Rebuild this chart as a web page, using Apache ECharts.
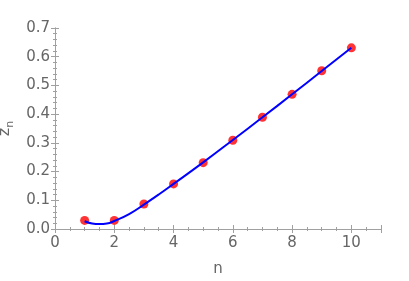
<!DOCTYPE html>
<html><head><meta charset="utf-8">
<script src="https://cdn.jsdelivr.net/npm/echarts@6/dist/echarts.min.js"></script>
<style>html,body{margin:0;padding:0;background:#fff}#c{width:409px;height:281px}</style>
</head><body><div id="c"></div>
<script>
const nValues = [1, 2, 3, 4, 5, 6, 7, 8, 9, 10];
const zValues = [0.030, 0.030, 0.087, 0.157, 0.231, 0.309, 0.389, 0.469, 0.551, 0.631];
const fitN = [1, 1.25, 1.5, 1.75, 2, 2.5, 3, 3.5, 4, 5, 6, 7, 8, 9, 10];
const fitZ = [0.027, 0.019, 0.017, 0.019, 0.028, 0.052, 0.085, 0.120, 0.157, 0.232, 0.310, 0.389, 0.469, 0.550, 0.631];
const xTicks = [0, 2, 4, 6, 8, 10];
const yTicks = [0.0, 0.1, 0.2, 0.3, 0.4, 0.5, 0.6, 0.7];

const font = 'DejaVu Sans';
const gray = '#666666';
const lineGray = '#a0a0a0';
const chart = echarts.init(document.getElementById('c'), null, {renderer: 'canvas'});
const baseAxis = {
  type: 'value',
  axisLine: {show: true, lineStyle: {color: lineGray, width: 1}},
  axisTick: {show: true, inside: true, length: 4, lineStyle: {color: lineGray}},
  minorTick: {show: true, splitNumber: 5, length: 2, lineStyle: {color: lineGray}},
  splitLine: {show: false},
  minorSplitLine: {show: false}
};
chart.setOption({
  animation: false,
  grid: {left: 55, top: 28, right: 28, bottom: 52, containLabel: false, outerBoundsMode: 'none'},
  xAxis: [
    Object.assign({}, baseAxis, {
      min: 0, max: 11, interval: 2, position: 'bottom',
      minorTick: Object.assign({}, baseAxis.minorTick, {splitNumber: 4}),
      axisLabel: {color: gray, fontFamily: font, fontSize: 15, margin: 7, showMaxLabel: false,
        formatter: v => xTicks.includes(v) ? String(v) : ''},
      name: 'n', nameLocation: 'middle', nameGap: 33,
      nameTextStyle: {color: gray, fontFamily: font, fontSize: 15}
    }),
    Object.assign({}, baseAxis, {
      min: 0, max: 11, interval: 2, position: 'top',
      minorTick: Object.assign({}, baseAxis.minorTick, {splitNumber: 4}),
      axisLabel: {show: false}
    })
  ],
  yAxis: [
    Object.assign({}, baseAxis, {
      min: 0, max: 0.7, interval: 0.1, position: 'left',
      axisLabel: {color: gray, fontFamily: font, fontSize: 15, margin: 5,
        formatter: v => { const t = yTicks.find(k => Math.abs(k - v) < 1e-9); return t === undefined ? '' : t.toFixed(1); }},
      name: '{z|z}{s|n}', nameLocation: 'middle', nameGap: 35,
      nameTextStyle: {color: gray, fontFamily: font,
        rich: {z: {fontSize: 16, color: gray, fontFamily: font}, s: {fontSize: 11, color: gray, fontFamily: font, padding: [9, 0, 0, 0]}}}
    }),
    Object.assign({}, baseAxis, {
      min: 0, max: 0.7, interval: 0.1, position: 'right',
      axisLabel: {show: false}
    })
  ],
  series: [
    {
      type: 'scatter', xAxisIndex: 0, yAxisIndex: 0,
      data: nValues.map((n, i) => [n, zValues[i]]),
      symbol: 'circle', symbolSize: 9,
      itemStyle: {color: '#ff0000'}, z: 2
    },
    {
      type: 'line', xAxisIndex: 0, yAxisIndex: 0,
      data: fitN.map((n, i) => [n, fitZ[i]]),
      smooth: 0.5, showSymbol: false, symbol: 'none',
      lineStyle: {color: '#0000ff', width: 2}, z: 3
    }
  ]
});
</script></body></html>
